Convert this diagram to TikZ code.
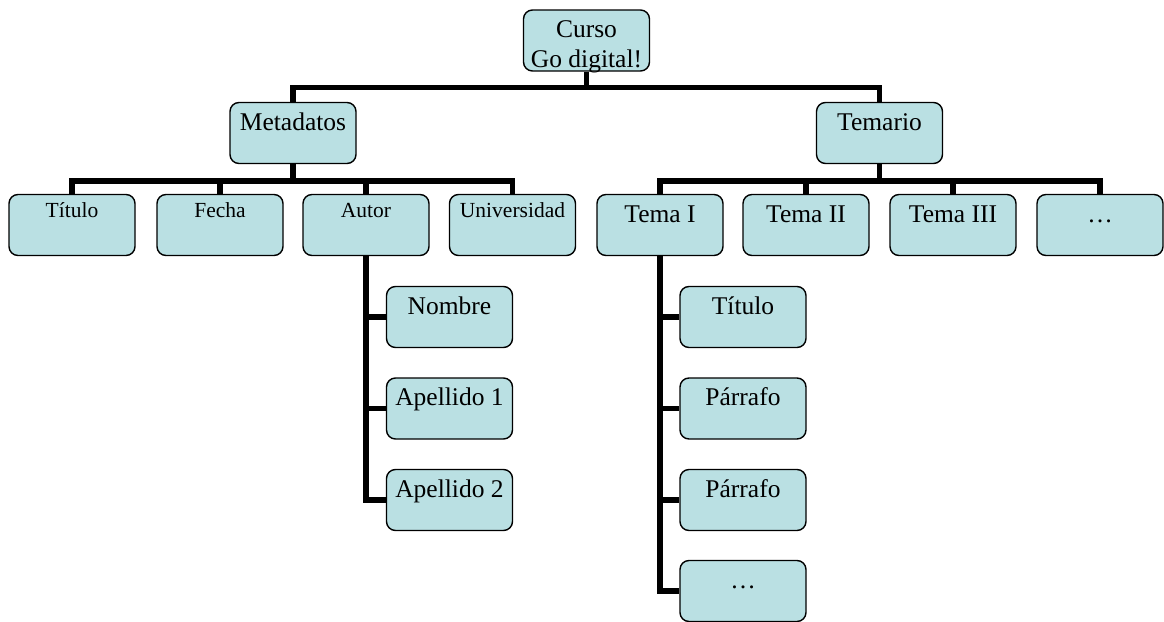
\documentclass[tikz,border=0pt]{standalone}
\usepackage{fontspec}
\setmainfont{Liberation Serif}
\usetikzlibrary{backgrounds}
\definecolor{boxfill}{RGB}{186,224,227}
\begin{document}
\begin{tikzpicture}[x=1pt,y=-1pt,
  box/.style={draw=black, line width=1.4pt, fill=boxfill, rounded corners=9pt,
    minimum width=126pt, minimum height=61pt, inner sep=0pt},
  big/.style={box, font=\fontsize{25.5}{30}\selectfont, text height=18pt, text depth=24pt},
  small/.style={box, font=\fontsize{21.5}{26}\selectfont, text height=14pt, text depth=29pt},
  conn/.style={draw=black, line width=5.5pt}]
\useasboundingbox (0,0) rectangle (1164,621);
% root
\node[big, text height=18pt, text depth=25pt] (root) at (586.5,40.5) {Curso};
\node[anchor=base, font=\fontsize{25.5}{30}\selectfont, inner sep=0pt] (rootsub) at ([yshift=-26.5pt]root.center) {Go digital!};
% level 2
\node[big] (meta) at (293,133) {Metadatos};
\node[big] (tem) at (879.5,133) {Temario};
% level 3 left
\node[small] (tit) at (72,225) {Título};
\node[small] (fec) at (220,225) {Fecha};
\node[small] (aut) at (366,225) {Autor};
\node[small] (uni) at (512.5,225) {Universidad};
% level 3 right
\node[big] (t1) at (660,225) {Tema I};
\node[big] (t2) at (806,225) {Tema II};
\node[big] (t3) at (953,225) {Tema III};
\node[big] (t4) at (1100,225) {\dots};
% autor children
\node[big] (nom) at (449.5,317) {Nombre};
\node[big] (ap1) at (449.5,408.5) {Apellido 1};
\node[big] (ap2) at (449.5,500) {Apellido 2};
% tema I children
\node[big] (c1) at (743,317) {Título};
\node[big] (c2) at (743,408.5) {Párrafo};
\node[big] (c3) at (743,500) {Párrafo};
\node[big] (c4) at (743,591) {\dots};
\begin{scope}[on background layer]
  \coordinate (rb) at ([yshift=-16pt]root.south);
  \draw[conn] (root.south) -- (rb);
  \draw[conn] (meta.north) |- (rb) -| (tem.north);
  \coordinate (mb) at ([yshift=-17pt]meta.south);
  \draw[conn] (meta.south) -- (mb);
  \draw[conn] (tit.north) |- (mb) -| (uni.north);
  \draw[conn] (fec.north) |- (mb);
  \draw[conn] (aut.north) |- (mb);
  \coordinate (tb) at ([yshift=-17pt]tem.south);
  \draw[conn] (tem.south) -- (tb);
  \draw[conn] (t1.north) |- (tb) -| (t4.north);
  \draw[conn] (t2.north) |- (tb);
  \draw[conn] (t3.north) |- (tb);
  \draw[conn] (aut.south) |- (ap2.west);
  \draw[conn] (aut.south) |- (nom.west);
  \draw[conn] (aut.south) |- (ap1.west);
  \draw[conn] (t1.south) |- (c4.west);
  \draw[conn] (t1.south) |- (c1.west);
  \draw[conn] (t1.south) |- (c2.west);
  \draw[conn] (t1.south) |- (c3.west);
\end{scope}
\end{tikzpicture}
\end{document}
